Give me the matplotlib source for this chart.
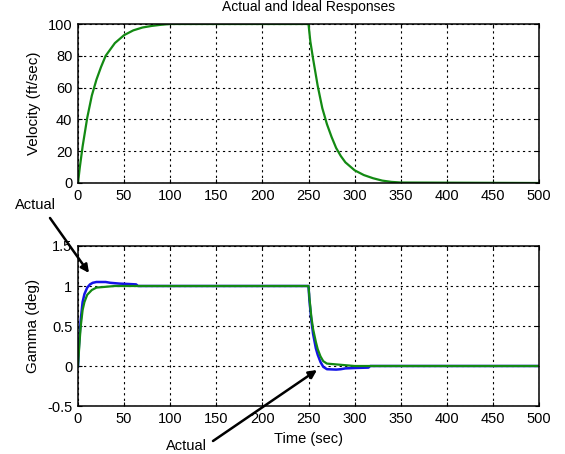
import matplotlib
matplotlib.use('Agg')
from matplotlib import pyplot as plt

plt.rcParams['font.family'] = ['Liberation Sans', 'DejaVu Sans']

# velocity
vel_t = [0, 2, 5, 10, 15, 20, 25, 30, 40, 50, 60, 70, 80, 90, 100,
         250, 252, 255, 260, 265, 270, 275, 280, 285, 290, 300, 310,
         320, 330, 340, 350, 500]
vel_v = [0, 10, 23, 41, 55, 65, 73, 80, 88, 93, 96, 97.8, 98.8, 99.5, 100,
         100, 89, 78, 61, 47, 37, 29, 22, 17, 13, 8, 5,
         3, 1.5, 0.7, 0.3, 0]

# gamma, ideal (green) and actual (blue)
ideal_t = [0, 1, 2, 3, 5, 7, 10, 15, 20, 30, 40,
           250, 251, 253, 255, 258, 260, 263, 266, 270, 280, 290, 300, 500]
ideal_g = [0, 0.18, 0.35, 0.5, 0.7, 0.8, 0.89, 0.95, 0.98, 0.99, 1.0,
           1.0, 0.85, 0.62, 0.46, 0.3, 0.21, 0.12, 0.06, 0.03, 0.02, 0.01, 0, 0]

actual_t = [0, 1, 2, 3, 5, 7, 10, 13, 16, 20, 30, 35, 45, 55, 63, 65,
            250, 251, 253, 255, 258, 260, 263, 266, 270, 280, 285, 290,
            300, 315, 317, 500]
actual_g = [0, 0.25, 0.42, 0.58, 0.8, 0.9, 0.98, 1.02, 1.04, 1.05, 1.05, 1.04,
            1.03, 1.025, 1.02, 1.0,
            1.0, 0.82, 0.58, 0.4, 0.22, 0.14, 0.05, -0.01, -0.04, -0.045,
            -0.04, -0.03, -0.025, -0.02, 0, 0]

x_ticks = [0, 50, 100, 150, 200, 250, 300, 350, 400, 450, 500]
vel_ticks = [0, 20, 40, 60, 80, 100]
gam_ticks = [-0.5, 0, 0.5, 1, 1.5]
gam_labels = ['-0.5', '0', '0.5', '1', '1.5']

GREEN = '#138a13'
BLUE = '#1414e6'


def style_axes(ax):
    ax.grid(True, color='black', linestyle=(0, (2, 3)), linewidth=0.8)
    ax.tick_params(direction='in', top=True, right=True, labelsize=10.5,
                   length=3, pad=4, colors='black')
    for s in ax.spines.values():
        s.set_linewidth(1.1)
        s.set_color('black')
    ax.set_xlim(0, 500)
    ax.set_xticks(x_ticks)


fig = plt.figure(figsize=(5.65, 4.54), dpi=100)
ax1 = fig.add_axes([78 / 565, 1 - 183 / 454, 461 / 565, 159 / 454])
ax2 = fig.add_axes([78 / 565, 1 - 406 / 454, 461 / 565, 160 / 454])

ax1.plot(vel_t, vel_v, color=GREEN, linewidth=1.6)
style_axes(ax1)
ax1.set_ylim(0, 100)
ax1.set_yticks(vel_ticks)
ax1.set_ylabel('Velocity (ft/sec)', fontsize=11, labelpad=5)
ax1.set_title('Actual and Ideal Responses', fontsize=10, pad=9)

ax2.plot(actual_t, actual_g, color=BLUE, linewidth=1.8)
ax2.plot(ideal_t, ideal_g, color=GREEN, linewidth=1.6)
style_axes(ax2)
ax2.set_ylim(-0.5, 1.5)
ax2.set_yticks(gam_ticks)
ax2.set_yticklabels(gam_labels)
ax2.set_ylabel('Gamma (deg)', fontsize=11, labelpad=5)
ax2.set_xlabel('Time (sec)', fontsize=10.5, labelpad=4.5)

# "Actual" call-outs, placed in figure pixels
arrow = dict(arrowstyle='-|>', color='black', lw=1.8, mutation_scale=12,
             shrinkA=0, shrinkB=0)
fig.text(35 / 565, 1 - 205 / 454, 'Actual', ha='center', va='center', fontsize=10.5)
ax2.annotate('', xy=(89, 454 - 273), xytext=(50, 454 - 218),
             xycoords='figure pixels', textcoords='figure pixels',
             arrowprops=arrow, annotation_clip=False)
fig.text(186 / 565, 1 - 446 / 454, 'Actual', ha='center', va='center', fontsize=10.5)
ax2.annotate('', xy=(317, 454 - 370), xytext=(213, 454 - 441),
             xycoords='figure pixels', textcoords='figure pixels',
             arrowprops=arrow, annotation_clip=False)

fig.savefig('out.png', dpi=100)
